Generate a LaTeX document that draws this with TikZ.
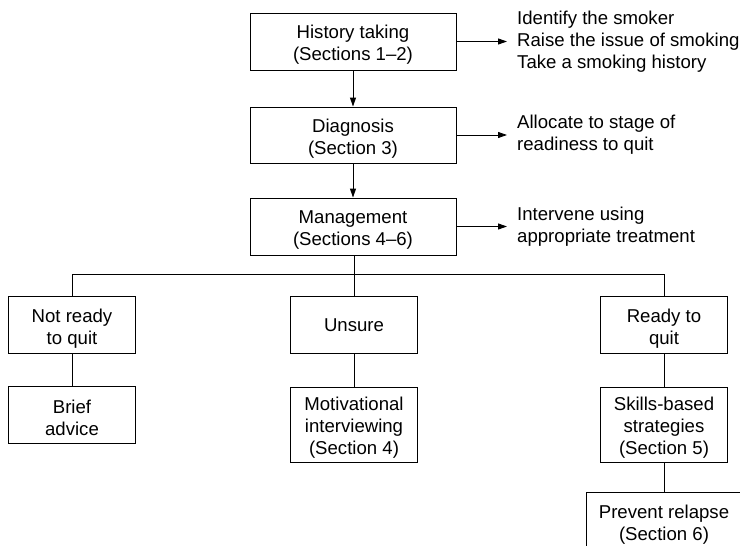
\documentclass[tikz,border=0pt]{standalone}
\usepackage{fontspec}
\setmainfont{Liberation Sans}
\usetikzlibrary{arrows.meta}
\newcommand\flowbox[5]{%
  \node[box, #3] (#1) at (#2) {};
  \node[boxtext] at ([yshift=-#4pt]#1.center) {#5};}
\begin{document}
\begin{tikzpicture}[x=1pt,y=-1pt,
  every node/.style={font=\fontsize{18.6}{22}\selectfont},
  box/.style={draw, line width=0.9pt, inner sep=0pt},
  boxtext/.style={align=center, inner sep=0pt},
  wide/.style={minimum width=206pt, minimum height=57pt},
  small/.style={minimum width=127pt, minimum height=57pt},
  tall/.style={minimum width=127pt, minimum height=75pt},
  conn/.style={line width=0.9pt},
  arr/.style={conn, -{Triangle[length=9pt,width=6pt]}},
  note/.style={anchor=west, align=left, inner xsep=10pt, inner ysep=0pt}]
\useasboundingbox (0,0) rectangle (740,546);
\clip (0,0) rectangle (740,546);
% main column
\flowbox{hist}{353,41.5}{wide}{3.5}{History taking\\(Sections 1--2)}
\flowbox{diag}{353,135}{wide, minimum height=56pt}{3.5}{Diagnosis\\(Section 3)}
\flowbox{mgmt}{353,226.5}{wide}{3.5}{Management\\(Sections 4--6)}
% notes
\node[note] (t1) at (507,41.5) {Identify the smoker\\Raise the issue of smoking\\Take a smoking history};
\node[note] (t2) at (507,135) {Allocate to stage of\\readiness to quit};
\node[note] (t3) at (507,226.5) {Intervene using\\appropriate treatment};
% branches
\flowbox{notready}{72,325}{small}{3.5}{Not ready\\to quit}
\flowbox{unsure}{354,325}{small}{0.5}{Unsure}
\flowbox{ready}{664,325}{small}{3.5}{Ready to\\quit}
\flowbox{brief}{72,414.5}{small}{3.5}{Brief\\advice}
\flowbox{motiv}{354,424.5}{tall}{3}{Motivational\\interviewing\\(Section 4)}
\flowbox{skills}{664,424.5}{tall}{3}{Skills-based\\strategies\\(Section 5)}
\flowbox{prevent}{664,522}{minimum width=156pt, minimum height=60pt}{3}{Prevent relapse\\(Section 6)}
\coordinate (bus) at (354,274.5);
% connectors
\draw[arr] (hist) -- (diag);
\draw[arr] (diag) -- (mgmt);
\draw[arr] (hist.east) -- (t1.west);
\draw[arr] (diag.east) -- (t2.west);
\draw[arr] (mgmt.east) -- (t3.west);
\draw[conn] (mgmt.south -| bus) -- (unsure.north);
\draw[conn] (notready.north) |- (bus) -| (ready.north);
\draw[conn] (notready) -- (brief);
\draw[conn] (unsure) -- (motiv);
\draw[conn] (ready) -- (skills);
\draw[conn] (skills) -- (prevent);
\end{tikzpicture}
\end{document}
